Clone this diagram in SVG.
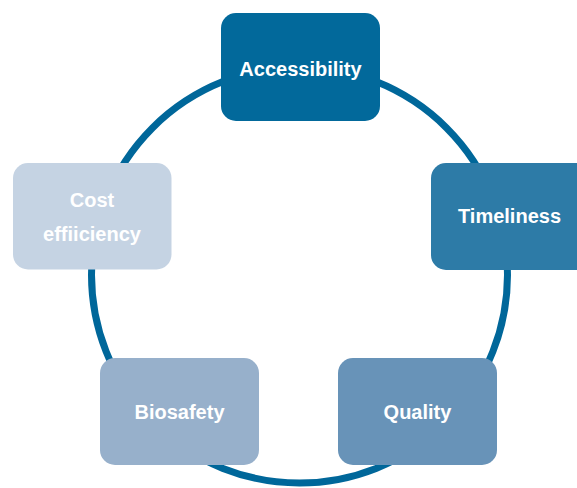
<svg xmlns="http://www.w3.org/2000/svg" width="577" height="488" viewBox="0 0 577 488">
  <style>
    .box { stroke: none; }
    .lbl { font-family: "Liberation Sans", Arial, sans-serif; font-weight: bold; font-size: 20px; fill: #ffffff; text-anchor: middle; }
    .ring { fill: none; stroke: #00679a; stroke-width: 7; }
  </style>
  <rect width="577" height="488" fill="#ffffff"/>
  <g id="connectors">
    <circle class="ring" cx="299.5" cy="275" r="208"/>
  </g>
  <g id="accessibility">
    <rect class="box" x="221" y="13" width="159" height="108" rx="15" fill="#02699b"/>
    <text class="lbl" x="300.5" y="76">Accessibility</text>
  </g>
  <g id="timeliness">
    <rect class="box" x="431" y="163" width="165" height="107" rx="15" fill="#2d7ba7"/>
    <text class="lbl" x="509.5" y="223">Timeliness</text>
  </g>
  <g id="quality">
    <rect class="box" x="338" y="358" width="159" height="107" rx="15" fill="#6893b8"/>
    <text class="lbl" x="417.5" y="419">Quality</text>
  </g>
  <g id="biosafety">
    <rect class="box" x="100" y="358" width="159" height="107" rx="15" fill="#97b0cb"/>
    <text class="lbl" x="179.5" y="419">Biosafety</text>
  </g>
  <g id="cost-efficiency">
    <rect class="box" x="13" y="163" width="158.5" height="106.5" rx="15" fill="#c5d3e3"/>
    <text class="lbl" x="92" y="207">Cost</text>
    <text class="lbl" x="92" y="240.5">effiiciency</text>
  </g>
</svg>
